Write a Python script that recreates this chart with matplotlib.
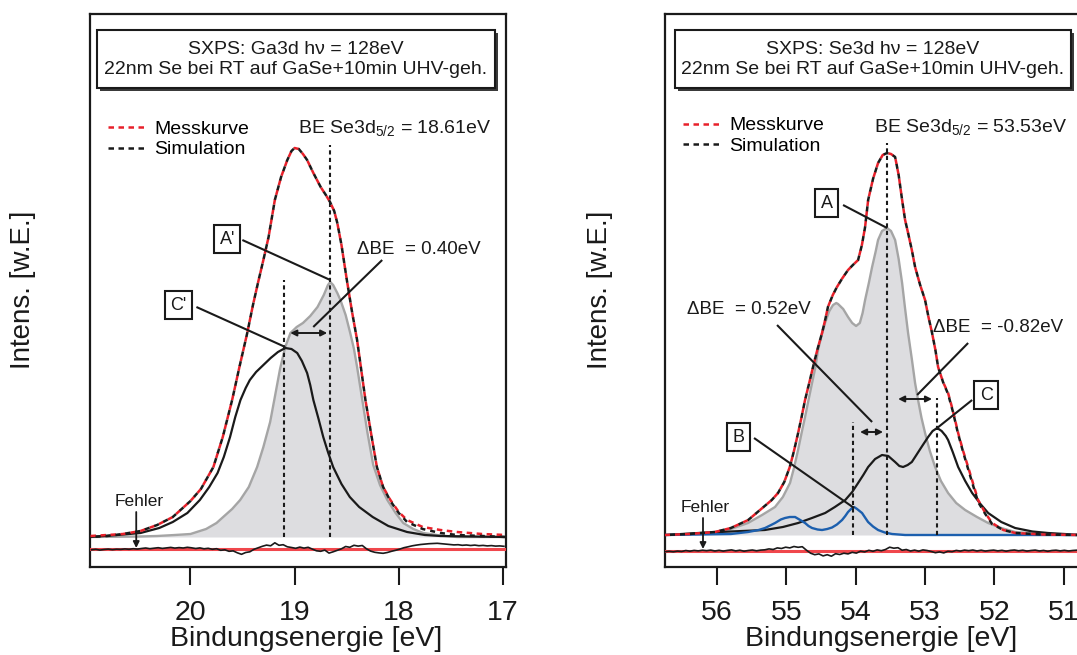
import numpy as np
import matplotlib
matplotlib.use('Agg')
import matplotlib.pyplot as plt
from matplotlib.patches import Rectangle
from matplotlib.lines import Line2D

plt.rcParams['font.family'] = ['Liberation Sans', 'DejaVu Sans']
plt.rcParams['mathtext.fontset'] = 'custom'
plt.rcParams['mathtext.rm'] = 'Liberation Sans'
plt.rcParams['mathtext.it'] = 'Liberation Sans:italic'
plt.rcParams['mathtext.bf'] = 'Liberation Sans:bold'

# ---------------- data: Ga3d (left) ----------------
ga_meas_be = [20.96, 20.80, 20.65, 20.48, 20.32, 20.17, 20.00, 19.90, 19.78, 19.69,
              19.60, 19.53, 19.455, 19.40, 19.35, 19.30, 19.25, 19.19, 19.13, 19.07,
              19.03, 19.00, 18.96, 18.92, 18.88, 18.82, 18.75, 18.70, 18.66, 18.62,
              18.59, 18.55, 18.50, 18.45, 18.40, 18.36, 18.32, 18.26, 18.21, 18.15,
              18.08, 18.00, 17.92, 17.77, 17.60, 17.44, 17.20, 16.97]
ga_meas_i = [1, 2, 3, 6, 12, 20, 36, 48, 70, 100,
             137, 170, 204, 232, 255, 277, 300, 337, 360, 377,
             386, 389, 388, 383, 377, 364, 350, 342, 335, 326,
             314, 292, 258, 226, 197, 167, 137, 100, 70, 50,
             37, 25, 17, 10, 7, 5, 3, 2]
ga_sim_i = [0, 1, 3, 6, 12, 20, 36, 48, 70, 100,
            137, 170, 204, 232, 255, 277, 300, 337, 360, 377,
            386, 389, 388, 383, 377, 364, 350, 342, 335, 326,
            314, 292, 258, 226, 197, 167, 137, 100, 70, 50,
            36, 24, 15, 8, 4, 2, 1, 0]

ga_A_be = [20.965, 20.50, 20.32, 20.15, 20.00, 19.85, 19.75, 19.686, 19.60, 19.523,
           19.44, 19.36, 19.30, 19.235, 19.19, 19.14, 19.09, 19.04, 18.98, 18.92,
           18.85, 18.78, 18.72, 18.68, 18.658, 18.63, 18.59, 18.56, 18.51, 18.466,
           18.43, 18.40, 18.35, 18.30, 18.245, 18.18, 18.11, 18.03, 17.957, 17.86,
           17.765, 17.60, 17.44, 16.97]
ga_A_i = [0, 0.5, 1, 2, 3, 8, 14, 20, 28, 37,
          50, 70, 90, 115, 140, 168, 190, 204, 210, 214,
          221, 230, 242, 252, 255, 252, 244, 237, 222, 204,
          188, 170, 137, 104, 72, 52, 37, 24, 14, 8,
          4, 1.5, 0, 0]

ga_C_be = [20.965, 20.70, 20.48, 20.30, 20.17, 20.03, 19.91, 19.82, 19.74, 19.68,
           19.62, 19.57, 19.52, 19.47, 19.43, 19.37, 19.30, 19.23, 19.16, 19.09,
           19.03, 18.975, 18.93, 18.88, 18.85, 18.82, 18.77, 18.725, 18.68, 18.63,
           18.55, 18.47, 18.38, 18.25, 18.10, 17.92, 17.75, 17.60, 16.97]
ga_C_i = [0, 2, 4, 9, 15, 24, 37, 50, 64, 80,
          100, 120, 137, 149, 157, 165, 172, 179, 185, 189,
          188, 184, 176, 164, 152, 137, 118, 100, 85, 70,
          53, 40, 30, 20, 11, 5, 2, 1, 0]

ga_err_start, ga_err_step = 20.95, 0.04
ga_err = [-1.5, -1.0, -1.8, -1.2, -0.8, -1.4, -0.9, -1.1, -0.6, -1.0,
          -0.4, -0.8, -0.2, 0.3, -0.4, 0.1, 0.6, -0.1, 0.4, 0.9,
          0.2, 0.7, 0.3, 1.0, 0.5, -0.2, 0.4, -0.5, 0.0, -1.0,
          -0.4, -2.0, -1.5, -3.0, -2.6, -4.5, -6.0, -4.2, -3.5, -1.0,
          0.5, 2.0, 3.2, 2.5, 5.5, 3.0, 3.6, 1.5, 0.8, 0.0,
          1.2, 0.2, 1.0, -0.8, -2.5, -3.0, -1.8, -4.8, -3.5, -2.0,
          -0.5, 1.8, 1.0, 3.0, 2.2, 2.8, -0.5, -2.8, -4.0, -4.6,
          -5.0, -4.2, -3.0, -2.0, -0.8, 0.6, 1.5, 2.5, 3.2, 3.8,
          4.2, 4.6, 4.8, 5.0, 4.6, 4.2, 3.8, 3.4, 3.6, 3.0,
          3.3, 2.8, 3.2, 2.6, 2.9, 2.4, 2.7, 2.2, 2.4, 2.0]
ga_err_offset = -11.3

# ---------------- data: Se3d (right) ----------------
se_meas_be = [56.75, 56.40, 56.03, 55.80, 55.55, 55.38, 55.21, 55.12, 55.03, 54.95,
              54.89, 54.83, 54.78, 54.73, 54.67, 54.615, 54.55, 54.485, 54.44, 54.40,
              54.33, 54.27, 54.19, 54.11, 54.04, 53.965, 53.91, 53.864, 53.82, 53.75,
              53.677, 53.61, 53.547, 53.49, 53.431, 53.38, 53.33, 53.287, 53.244, 53.19,
              53.143, 53.07, 52.999, 52.95, 52.898, 52.85, 52.811, 52.74, 52.667, 52.60,
              52.522, 52.45, 52.378, 52.30, 52.234, 52.13, 52.032, 51.87, 51.70, 51.30,
              50.75]
se_meas_i = [0, 1, 3, 7, 15, 25, 35, 42, 53, 68,
             84, 102, 118, 135, 152, 168, 186, 202, 215, 228,
             240, 248, 257, 265, 270, 275, 290, 308, 335, 356,
             372, 380, 382, 381, 378, 360, 335, 315, 302, 285,
             268, 250, 235, 218, 202, 185, 168, 153, 142, 125,
             102, 84, 68, 50, 35, 22, 12, 5, 2, 0.5,
             0]
se_sim_i = [0, 1, 3, 7, 15, 25, 35, 42, 53, 68,
            84, 102, 118, 135, 152, 168, 186, 202, 215, 228,
            240, 248, 257, 265, 270, 275, 290, 308, 335, 356,
            372, 380, 382, 381, 378, 360, 335, 315, 302, 285,
            268, 250, 235, 218, 202, 185, 168, 153, 141, 124,
            101, 83, 66, 48, 33, 21, 11, 5, 2, 0.5,
            0]

se_A_be = [56.75, 56.40, 56.03, 55.80, 55.553, 55.35, 55.163, 55.05, 54.947, 54.89,
           54.831, 54.78, 54.730, 54.68, 54.629, 54.58, 54.543, 54.49, 54.442, 54.38,
           54.326, 54.28, 54.254, 54.18, 54.110, 54.05, 53.994, 53.94, 53.90, 53.864,
           53.81, 53.763, 53.71, 53.677, 53.62, 53.547, 53.49, 53.431, 53.38, 53.330,
           53.29, 53.244, 53.19, 53.143, 53.10, 53.05, 52.999, 52.93, 52.854, 52.77,
           52.667, 52.55, 52.421, 52.25, 52.089, 51.90, 51.700, 51.30, 50.978, 50.747]
se_A_i = [0, 1, 3, 6, 12, 20, 28, 38, 52, 67,
          85, 102, 118, 135, 152, 168, 185, 200, 212, 224,
          230, 232, 231, 226, 218, 212, 209, 212, 222, 235,
          252, 268, 284, 295, 304, 307, 304, 295, 276, 252,
          228, 202, 176, 152, 135, 117, 102, 84, 68, 54,
          42, 32, 25, 18, 12, 7, 3, 1, 0, 0]

se_C_be = [56.75, 56.27, 55.80, 55.31, 55.05, 54.83, 54.63, 54.44, 54.30, 54.15,
           54.05, 53.965, 53.89, 53.82, 53.72, 53.62, 53.53, 53.431, 53.37, 53.316,
           53.25, 53.19, 53.143, 53.05, 52.955, 52.89, 52.825, 52.76, 52.70, 52.667,
           52.60, 52.522, 52.42, 52.320, 52.20, 52.089, 51.90, 51.700, 51.45, 51.224,
           50.747]
se_C_i = [0, 2, 3.5, 5, 8, 12, 17, 22, 28, 35,
          43, 52, 60, 68, 76, 80, 79, 73, 69, 68,
          70, 73, 78, 88, 98, 104, 107, 104, 99, 95,
          83, 68, 54, 42, 31, 22, 13, 7, 3.5, 2,
          0]

se_B_be = [56.75, 55.80, 55.553, 55.40, 55.307, 55.22, 55.163, 55.08, 55.019, 54.95,
           54.874, 54.80, 54.730, 54.68, 54.629, 54.55, 54.485, 54.41, 54.341, 54.27,
           54.196, 54.15, 54.110, 54.06, 54.023, 53.98, 53.908, 53.86, 53.821, 53.75,
           53.677, 53.58, 53.475, 53.287, 50.747]
se_B_i = [0, 1, 3, 5, 7, 10, 12, 15.5, 17, 18,
          18, 15, 12, 9, 7, 5.5, 5, 6, 7.5, 10.5,
          15, 19, 23, 26.5, 28, 26, 22, 17, 13, 8.5,
          5, 2.5, 1, 0, 0]

se_err_start, se_err_step = 56.75, 0.06
se_err = [-1.0, -0.6, -1.1, -0.4, -0.8, 0.2, -0.5, 0.3, -0.2, 0.5,
          0.0, 0.6, -0.3, 0.4, -0.4, 0.3, 0.8, -0.2, 0.5, -0.5,
          0.2, 0.7, -0.1, 0.6, 0.9, 1.8, 1.2, 2.8, 2.2, 3.5,
          2.8, 4.2, 3.4, 4.0, 0.5, -2.5, -4.0, -3.2, -5.2, -4.0,
          -5.5, -3.0, -3.8, -2.5, -3.2, -1.6, -2.4, -0.5, -1.2, 0.4,
          -0.6, 0.8, 0.0, 1.2, 3.5, 2.5, 3.0, 0.5, 1.2, -0.3,
          0.6, -0.5, 0.8, 0.2, -0.8, -2.0, -1.2, -2.2, -0.6, -1.0,
          0.3, -0.4, 0.6, 0.0, 0.7, -0.3, 0.5, -0.4, 0.2, 0.6,
          -0.2, 0.4, -0.5, 0.3, 0.7, -0.1, 0.5, -0.4, 0.2, 0.6,
          -0.3, 0.3, -0.6, 0.2, 0.5, -0.2, 0.4, -0.3, 0.2, 0.5,
          0.0]
se_err_offset = -15.7

# ticks / texts
ga_ticks = [20, 19, 18, 17]
se_ticks = [56, 55, 54, 53, 52, 51]
ga_lines = ['SXPS: Ga3d h\u03bd = 128eV', '22nm Se bei RT auf GaSe+10min UHV-geh.']
se_lines = ['SXPS: Se3d h\u03bd = 128eV', '22nm Se bei RT auf GaSe+10min UHV-geh.']
legend_labels = ['Messkurve', 'Simulation']

# ---------------- style ----------------
RED = '#e8202a'
ERR_RED = '#f0474c'
GRAY_FILL = '#dddde0'
GRAY_LINE = '#a5a5a5'
BLUE = '#1c5fae'
K = '#1a1a1a'
DASH_R = (0, (2.2, 1.8))
DASH_K = (2.0, (2.0, 2.0))
VDASH = (0, (2.0, 1.6))

W, H = 1077, 655
fig = plt.figure(figsize=(W / 100, H / 100), dpi=100)


def add_ax(x0, y0, x1, y1):
    return fig.add_axes([x0 / W, 1 - y1 / H, (x1 - x0) / W, (y1 - y0) / H])


axL = add_ax(90, 14, 506, 567)
axR = add_ax(665, 14, 1081, 567)


def style_axis(ax, xlim, ylim, ticks):
    ax.set_xlim(*xlim)
    ax.set_ylim(*ylim)
    ax.set_xticks(ticks)
    ax.set_xticklabels([str(t) for t in ticks])
    ax.set_yticks([])
    for s in ax.spines.values():
        s.set_linewidth(1.6)
        s.set_color(K)
    ax.tick_params(axis='x', direction='out', length=13, width=1.5, color=K,
                   labelsize=20.5, pad=11, labelcolor=K)
    ax.set_xlabel('Bindungsenergie [eV]', fontsize=20.5, labelpad=0, color=K)
    ax.xaxis.label.set_x(0.5 + 8 / 416)


def info_box(ax, fx0, fx1, lines):
    fy0, fy1 = (567 - 88) / 553, (567 - 30) / 553
    ax.add_patch(Rectangle((fx0 + 3 / 416, fy0 - 3 / 553), fx1 - fx0, fy1 - fy0,
                           transform=ax.transAxes, fc='#3a3a3a', ec='none', zorder=9))
    ax.add_patch(Rectangle((fx0, fy0), fx1 - fx0, fy1 - fy0, transform=ax.transAxes,
                           fc='white', ec=K, lw=1.5, zorder=10))
    cx = (fx0 + fx1) / 2
    ax.text(cx, (567 - 49) / 553, lines[0], transform=ax.transAxes, ha='center',
            va='center', fontsize=14, color=K, zorder=11)
    ax.text(cx, (567 - 70) / 553, lines[1], transform=ax.transAxes, ha='center',
            va='center', fontsize=14, color=K, zorder=11)


def legend(ax, fx, fy):
    h = [Line2D([], [], color=RED, ls=DASH_R, lw=1.8),
         Line2D([], [], color=K, ls=DASH_R, lw=1.8)]
    ax.legend(h, legend_labels, loc='upper left', bbox_to_anchor=(fx, fy),
              frameon=False, fontsize=14, handlelength=1.9, handletextpad=0.5,
              labelspacing=0.15, borderpad=0, borderaxespad=0)


def label_box(ax, x, y, s):
    ax.text(x, y, s, ha='center', va='center', fontsize=13, color=K, zorder=12,
            bbox=dict(boxstyle='square,pad=0.3', fc='white', ec=K, lw=1.5))


def line(ax, p0, p1):
    ax.plot([p0[0], p1[0]], [p0[1], p1[1]], color=K, lw=1.5, zorder=11,
            solid_capstyle='butt')


def darrow(ax, x0, x1, y):
    ax.annotate('', xy=(x1, y), xytext=(x0, y),
                arrowprops=dict(arrowstyle='<|-|>', lw=1.4, color=K,
                                mutation_scale=9, shrinkA=0, shrinkB=0), zorder=12)


def down_arrow(ax, x, y0, y1):
    ax.annotate('', xy=(x, y1), xytext=(x, y0),
                arrowprops=dict(arrowstyle='-|>', lw=1.3, color=K,
                                mutation_scale=9, shrinkA=0, shrinkB=0), zorder=12)


# ================= LEFT: Ga3d =================
ax = axL
style_axis(ax, (20.965, 16.97), (-30, 523), ga_ticks)
ax.fill_between(ga_A_be, 0, ga_A_i, color=GRAY_FILL, lw=0, zorder=1)
ax.plot(ga_A_be, ga_A_i, color=GRAY_LINE, lw=1.7, zorder=2)
ax.plot(ga_C_be, ga_C_i, color=K, lw=1.6, zorder=3)
ax.vlines(18.658, 0, 392, colors=K, linestyles=VDASH, lw=1.5, zorder=4)
ax.vlines(19.10, 0, 257, colors=K, linestyles=VDASH, lw=1.5, zorder=4)
ax.plot(ga_meas_be, ga_meas_i, color=RED, ls=DASH_R, lw=1.8, zorder=5)
ax.plot(ga_meas_be, ga_sim_i, color=K, ls=DASH_K, lw=1.8, zorder=6)
ax.axhline(ga_err_offset - 0.8, color=ERR_RED, lw=2.2, zorder=3)
ga_err_be = ga_err_start - ga_err_step * np.arange(len(ga_err))
ax.plot(ga_err_be, ga_err_offset + np.array(ga_err), color=K, lw=1.2, zorder=4)

info_box(ax, 0.0168, 0.9736, ga_lines)
legend(ax, 0.043, 0.808)
ax.text(18.965, 409, 'BE Se3d$_{5/2}$ = 18.61eV', fontsize=14, va='center', ha='left', color=K)
label_box(ax, 19.647, 298, "A'")
line(ax, (19.502, 297), (18.658, 257))
label_box(ax, 20.118, 232, "C'")
line(ax, (19.943, 230), (19.090, 190))
ax.text(18.40, 287, '\u0394BE  = 0.40eV', fontsize=13.5, va='center', ha='left', color=K)
line(ax, (18.159, 277), (18.821, 210))
darrow(ax, 19.042, 18.687, 204)
ax.text(20.488, 36, 'Fehler', fontsize=12.5, ha='center', va='center', color=K)
down_arrow(ax, 20.521, 25, -11)

# ================= RIGHT: Se3d =================
ax = axR
style_axis(ax, (56.75, 50.75), (-32, 521), se_ticks)
ax.fill_between(se_A_be, 0, se_A_i, color=GRAY_FILL, lw=0, zorder=1)
ax.plot(se_A_be, se_A_i, color=GRAY_LINE, lw=1.7, zorder=2)
ax.plot(se_C_be, se_C_i, color=K, lw=1.6, zorder=3)
ax.plot(se_B_be, se_B_i, color=BLUE, lw=1.7, zorder=3)
ax.vlines(53.547, 0, 392, colors=K, linestyles=VDASH, lw=1.5, zorder=4)
ax.vlines(54.033, 0, 113, colors=K, linestyles=VDASH, lw=1.5, zorder=4)
ax.vlines(52.825, 0, 137, colors=K, linestyles=VDASH, lw=1.5, zorder=4)
ax.plot(se_meas_be, se_meas_i, color=RED, ls=DASH_R, lw=1.8, zorder=5)
ax.plot(se_meas_be, se_sim_i, color=K, ls=DASH_K, lw=1.8, zorder=6)
ax.axhline(se_err_offset - 0.5, color=ERR_RED, lw=2.2, zorder=3)
se_err_be = se_err_start - se_err_step * np.arange(len(se_err))
ax.plot(se_err_be, se_err_offset + np.array(se_err), color=K, lw=1.2, zorder=4)

info_box(ax, 0.024, 0.976, se_lines)
legend(ax, 0.043, 0.814)
ax.text(53.734, 408, 'BE Se3d$_{5/2}$ = 53.53eV', fontsize=14, va='center', ha='left', color=K)
label_box(ax, 54.420, 332, 'A')
line(ax, (54.182, 330), (53.547, 307))
label_box(ax, 55.690, 98, 'B')
line(ax, (55.466, 97), (54.023, 27))
label_box(ax, 52.118, 140, 'C')
line(ax, (52.320, 135), (52.825, 107))
ax.text(56.433, 225, '\u0394BE  = 0.52eV', fontsize=13.5, va='center', ha='left', color=K)
line(ax, (55.134, 210), (53.763, 113))
darrow(ax, 53.937, 53.605, 103)
ax.text(52.883, 207, '\u0394BE  = -0.82eV', fontsize=13.5, va='center', ha='left', color=K)
line(ax, (52.378, 192), (53.114, 140))
darrow(ax, 53.388, 52.898, 136)
ax.text(56.173, 27, 'Fehler', fontsize=12.5, ha='center', va='center', color=K)
down_arrow(ax, 56.202, 17, -14)

fig.text(23 / W, 1 - 290 / H, 'Intens. [w.E.]', rotation=90, ha='center', va='center',
         fontsize=20, color=K)
fig.text(600 / W, 1 - 290 / H, 'Intens. [w.E.]', rotation=90, ha='center', va='center',
         fontsize=20, color=K)

fig.savefig('out.png', dpi=100)
